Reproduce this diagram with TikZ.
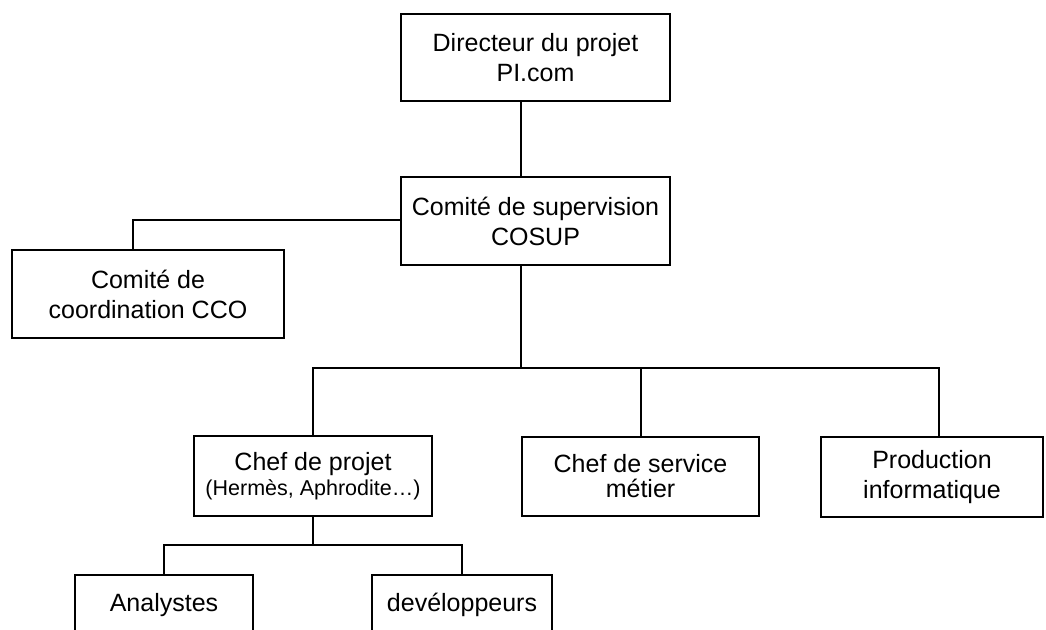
\documentclass[tikz,border=0pt]{standalone}
\usepackage{fontspec}
\setmainfont{Liberation Sans}
\begin{document}
\begin{tikzpicture}[x=1pt,y=-1pt,
  box/.style={draw=black, line width=2pt, rectangle, inner sep=0pt, align=center,
    font=\fontsize{25}{30}\selectfont},
  link/.style={draw=black, line width=2pt}]
\clip (0,0) rectangle (1046,629);
\fill[white] (0,0) rectangle (1046,629);
\node[box, minimum width=269pt, minimum height=87pt] (dir) at (535.5,57.5) {Directeur du projet\\PI.com};
\node[box, minimum width=269pt, minimum height=88pt] (sup) at (535.5,221) {Comité de supervision\\COSUP};
\node[box, minimum width=272pt, minimum height=88pt] (cco) at (148,294) {Comité de\\coordination CCO};
\node[box, minimum width=238pt, minimum height=80pt, font=\fontsize{25}{24.5}\selectfont] (cp) at (313,476) {Chef de projet\\{\fontsize{21.5}{24.5}\selectfont (Hermès, Aphrodite…)}};
\node[box, minimum width=237pt, minimum height=79pt, font=\fontsize{25}{25}\selectfont] (cs) at (640.5,476.5) {Chef de service\\métier};
\node[box, minimum width=222pt, minimum height=80pt] (prod) at (932,477) {Production\\informatique};
\node[box, minimum width=178pt, minimum height=60pt] (an) at (164,605) {Analystes};
\node[box, minimum width=180pt, minimum height=60pt] (dev) at (462,605) {devéloppeurs};
\coordinate (bus) at (521,368);
\coordinate (bus2) at (313,545);
\draw[link] ([xshift=-14.5pt]dir.south) -- ([xshift=-14.5pt]sup.north);
\draw[link] ([yshift=1pt]sup.west) -| ([xshift=-15pt]cco.north);
\draw[link] ([xshift=-14.5pt]sup.south) -- (bus);
\draw[link] (cp.north) |- (bus) -| ([xshift=7pt]prod.north);
\draw[link] (cs.north) -- (cs.north |- bus);
\draw[link] (cp.south) -- (bus2);
\draw[link] (an.north) |- (bus2) -| (dev.north);
\end{tikzpicture}
\end{document}
